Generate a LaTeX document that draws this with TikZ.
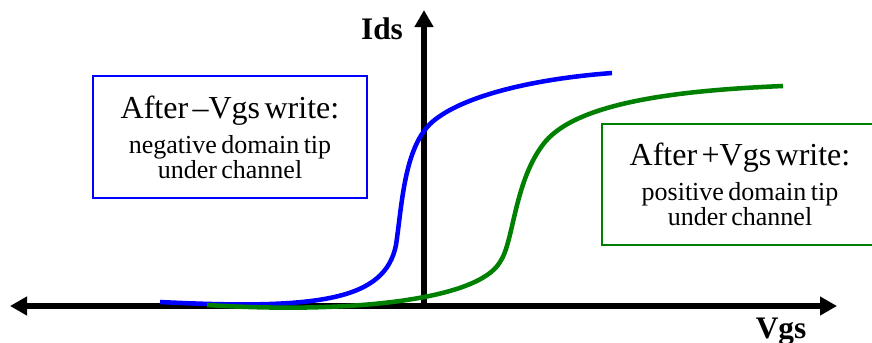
\documentclass[tikz,border=0pt]{standalone}
\usepackage{fontspec}
\setmainfont{Liberation Serif}
\usetikzlibrary{arrows.meta}
\usepackage{xcolor}
\definecolor{darkgreen}{RGB}{0,128,0}
\tikzset{axis/.style={line width=4.5pt},
note/.style={draw, line width=1.5pt, text width=200pt, align=center, inner sep=0pt},
curve/.style={line width=3.4pt}
}
\newcommand{\hdfont}{\fontsize{24}{26}\selectfont}
\newcommand{\subfont}{\fontsize{19.5}{20.25}\selectfont}
\newcommand{\lblfont}{\bfseries\fontsize{23.5}{26}\selectfont}

\begin{document}
\begin{tikzpicture}[x=0.75pt,y=-0.75pt,>={Triangle[length=12.75pt,width=13.5pt]}]
\useasboundingbox (0,0) rectangle (872,343);
\coordinate (o) at (424,306);
\coordinate (xl) at (10,306);
\coordinate (xr) at (837,306);
\coordinate (yt) at (424,10);
% axes
\draw[axis,<->] (xl) -- (xr);
\draw[axis,->] (o) -- (yt);
\node[font=\lblfont,anchor=base] (ids) at (382,39) {Ids};
\node[font=\lblfont,anchor=base] (vgs) at (781,338) {Vgs};
% Ids-Vgs curves
\draw[curve,blue] (160,302) .. controls (320,310) and (385,300) .. (396,245)
  .. controls (402,205) and (404,150) .. (430,124)
  .. controls (455,100) and (520,80) .. (612,73);
\draw[curve,darkgreen] (207,305) .. controls (350,314) and (478,300) .. (500,262)
  .. controls (514,242) and (514,180) .. (545,142)
  .. controls (580,100) and (690,90) .. (783,86);
% text boxes
\node[note,draw=blue,minimum width=205.5pt,minimum height=91.5pt] (neg) at (230,137)
  {\noindent\hdfont After \textendash Vgs write:\\[6pt]\subfont negative domain tip\\ under channel};
\node[note,draw=darkgreen,minimum width=207pt,minimum height=90.75pt] (pos) at (740,184.5)
  {\noindent\hdfont After +Vgs write:\\[6pt]\subfont positive domain tip\\ under channel};
\end{tikzpicture}
\end{document}
